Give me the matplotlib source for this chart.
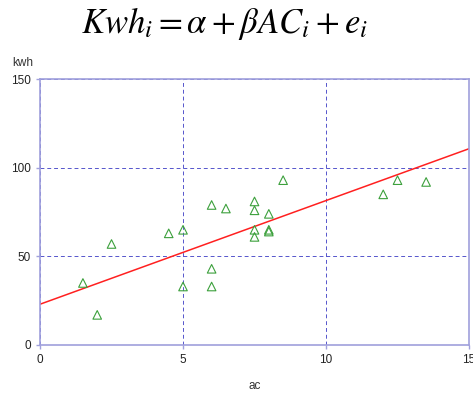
import numpy as np
import matplotlib
matplotlib.use("Agg")
import matplotlib.pyplot as plt

plt.rcParams['mathtext.fontset'] = 'stix'
plt.rcParams['font.family'] = ['Liberation Sans', 'DejaVu Sans']

# datos
ac = [1.5, 2, 2.5, 4.5, 5, 5, 6, 6.5, 6, 6, 8.5, 7.5, 7.5, 8, 7.5, 7.5, 8, 8, 12, 12.5, 13.5]
kwh = [35, 17, 57, 63, 65, 33, 79, 77, 43, 33, 93, 81, 76, 74, 65, 61, 65, 64, 85, 93, 92]
alpha = 23.0
beta = 5.85
xticks = [0, 5, 10, 15]
yticks = [0, 50, 100, 150]

axis_col = '#a0a0dc'
grid_col = '#5555cc'

fig = plt.figure(figsize=(4.73, 3.95), dpi=100)
ax = fig.add_axes([0.0846, 0.1266, 0.907, 0.673])

ax.scatter(ac, kwh, marker='^', s=38, facecolors='none', edgecolors='#3ca03c', linewidths=0.8, zorder=3)
xl = np.array([0, 15])
ax.plot(xl, alpha + beta * xl, color='#ff2020', lw=1.1, zorder=2)

ax.set_xlim(0, 15)
ax.set_ylim(0, 150)
ax.set_xticks(xticks)
ax.set_yticks(yticks)
ax.set_xticklabels([str(t) for t in xticks])
ax.set_yticklabels([str(t) for t in yticks])
for s in ax.spines.values():
    s.set_color(axis_col)
    s.set_linewidth(1.2)
ax.tick_params(colors=axis_col, labelcolor='#222222', labelsize=8.5, length=3, width=1)
ax.grid(True, color=grid_col, linestyle=(0, (4, 3)), linewidth=0.7)
ax.set_axisbelow(True)

ax.set_xlabel('ac', fontsize=8.5, color='#333333', labelpad=10)
fig.text(0.025, 0.832, 'kwh', fontsize=8.5, color='#333333')

fig.text(0.475, 0.94, r'$Kwh_i = \alpha + \beta AC_i + e_i$', fontsize=25, ha='center', va='center')

fig.savefig('out.png', dpi=100)
